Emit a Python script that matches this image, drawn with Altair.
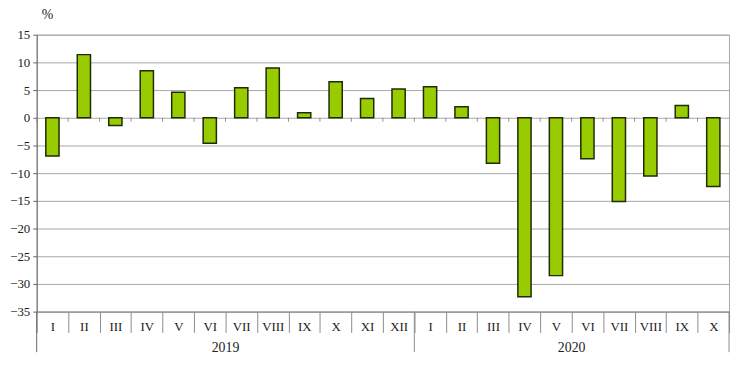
import altair as alt
import pandas as pd

years = ["2019", "2020"]
months_2019 = ["I", "II", "III", "IV", "V", "VI", "VII", "VIII", "IX", "X", "XI", "XII"]
values_2019 = [-6.9, 11.4, -1.4, 8.5, 4.6, -4.6, 5.4, 9.0, 0.9, 6.5, 3.5, 5.2]
months_2020 = ["I", "II", "III", "IV", "V", "VI", "VII", "VIII", "IX", "X"]
values_2020 = [5.6, 2.0, -8.2, -32.3, -28.5, -7.4, -15.1, -10.5, 2.2, -12.4]
y_ticks = [-35, -30, -25, -20, -15, -10, -5, 0, 5, 10, 15]
unit_label = ["%"]

rows = []
for yr, months, vals in [("2019", months_2019, values_2019), ("2020", months_2020, values_2020)]:
    for m, v in zip(months, vals):
        rows.append({"key": f"{yr}-{m}", "year": yr, "month": m, "value": v})
df = pd.DataFrame(rows)
keys = list(df["key"])

W, H = 700, 280
FONT = "'Times New Roman', 'Liberation Serif', serif"
GRID = "#a8a8a8"
TXT = "#222222"

xscale = alt.Scale(domain=keys, paddingInner=0, paddingOuter=0)
yscale = alt.Scale(domain=[-35, 15], nice=False, zero=False)

x_axis = alt.Axis(
    title=None, labelExpr="split(datum.value, '-')[1]", labelAngle=0,
    tickBand="extent", tickSize=21, tickColor="#8c8c8c", domainColor="#8c8c8c",
    labelPadding=-12, labelFont=FONT, labelFontSize=13, labelColor=TXT, grid=False,
    labelOverlap=False,
)
y_axis = alt.Axis(
    values=y_ticks, title=None, grid=True, gridColor=GRID, tickSize=4,
    tickColor="#666666", domainColor="#666666", labelFont=FONT, labelFontSize=13,
    labelColor=TXT, labelPadding=3, labelOverlap=False,
)


def xenc(band=0.5):
    return alt.X("key:N", sort=keys, scale=xscale, bandPosition=band, axis=x_axis)


bars = alt.Chart(df).mark_bar(
    width=alt.RelativeBandSize(0.42), fill="#99CC00", stroke="#1e2b05", strokeWidth=1.5
).encode(
    x=alt.X("key:N", sort=keys, scale=xscale, axis=x_axis),
    y=alt.Y("value:Q", scale=yscale, axis=y_axis),
    y2=alt.Y2(datum=0),
)

small_ticks = alt.Chart(df).mark_rule(color="#8c8c8c").encode(
    x=xenc(0),
    y=alt.Y(datum=0, scale=yscale, axis=y_axis),
    y2=alt.Y2(datum=-0.7),
)

sep_mid = alt.Chart(pd.DataFrame({"key": ["2020-I"]})).mark_rule(color="#8c8c8c").encode(
    x=xenc(0),
    y=alt.value(H),
    y2=alt.value(H + 41),
)
sep_right = alt.Chart(pd.DataFrame({"key": ["2020-X"]})).mark_rule(color="#8c8c8c").encode(
    x=xenc(1),
    y=alt.value(H),
    y2=alt.value(H + 41),
)
left_line = alt.Chart(pd.DataFrame({"key": ["2019-I"]})).mark_rule(color="#666666").encode(
    x=xenc(0),
    y=alt.value(H),
    y2=alt.value(H + 41),
)

year_df = pd.DataFrame({"key": ["2019-VII", "2020-VI"], "year": years})
year_labels = alt.Chart(year_df).mark_text(
    font=FONT, fontSize=14, color=TXT, baseline="middle", align="center"
).encode(
    x=xenc(0),
    y=alt.value(H + 37),
    text="year:N",
)

unit = alt.Chart(pd.DataFrame({"t": unit_label})).mark_text(
    font=FONT, fontSize=14, color=TXT, baseline="alphabetic", align="left"
).encode(
    x=alt.value(5),
    y=alt.value(-16),
    text="t:N",
)

chart = alt.layer(bars, small_ticks, sep_mid, sep_right, left_line, year_labels, unit).properties(
    width=W, height=H,
    autosize=alt.AutoSizeParams(type="none"),
    padding={"left": 29, "top": 25, "right": 3, "bottom": 54},
).configure_view(stroke=GRID, strokeWidth=1)

chart.save("out.html", embed_options={"renderer": "svg", "actions": False})
